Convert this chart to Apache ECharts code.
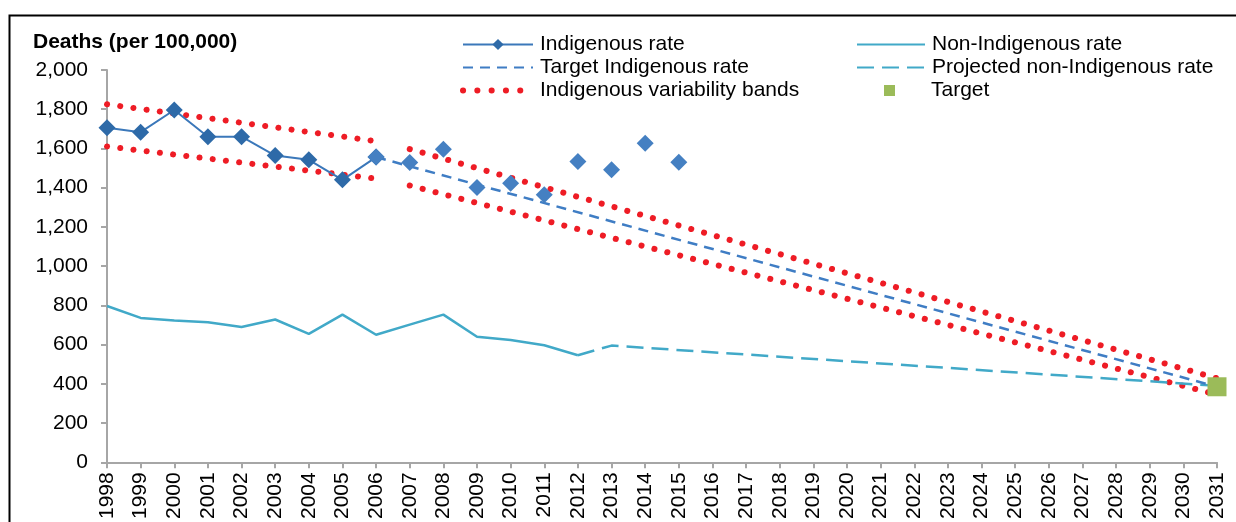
<!DOCTYPE html>
<html>
<head>
<meta charset="utf-8">
<script src="https://cdn.jsdelivr.net/npm/echarts@6/dist/echarts.min.js"></script>
<style>
html,body{margin:0;padding:0;background:#fff;}
#chart{width:1236px;height:522px;}
</style>
</head>
<body>
<div id="chart"></div>
<script>
// ---- data ----
var years = ['1998','1999','2000','2001','2002','2003','2004','2005','2006','2007','2008','2009','2010','2011','2012','2013','2014','2015','2016','2017','2018','2019','2020','2021','2022','2023','2024','2025','2026','2027','2028','2029','2030','2031'];
var yTicks = [0,200,400,600,800,1000,1200,1400,1600,1800,2000];

var indigenousYears = ['1998','1999','2000','2001','2002','2003','2004','2005','2006'];
var indigenousRate = [1706,1683,1796,1660,1660,1564,1542,1440,1556];

var indigenousLaterYears = ['2006','2007','2008','2009','2010','2011','2012','2013','2014','2015'];
var indigenousLaterRate = [1556,1528,1596,1401,1423,1364,1533,1491,1627,1530];

var nonIndigenousYears = ['1998','1999','2000','2001','2002','2003','2004','2005','2006','2007','2008','2009','2010','2011','2012'];
var nonIndigenousRate = [797,736,723,714,690,728,655,753,650,702,753,640,623,597,546];

var projectedNonIndigenousYears = ['2012','2013','2031'];
var projectedNonIndigenousRate = [546,595,390];

var targetIndigenousYears = ['2006','2031'];
var targetIndigenousRate = [1556,385];

var bandUpperEarlyYears = ['1998','2006'];
var bandUpperEarly = [1825,1637];
var bandLowerEarlyYears = ['1998','2006'];
var bandLowerEarly = [1610,1446];
var bandUpperLateYears = ['2007','2031'];
var bandUpperLate = [1597,428];
var bandLowerLateYears = ['2007','2031'];
var bandLowerLate = [1411,345];

var targetYears = ['2031'];
var targetValue = [385];

// ---- helpers ----
function pairs(xs, vs){ return xs.map(function(x,i){ return [x, vs[i]]; }); }

var FONT = 'Liberation Sans, Arial, sans-serif';
var RED = '#EE1C25';
var BLUE_LINE = '#3B78BA';
var AQUA = '#41A9C8';
var TARGET_BLUE = '#3F7DC4';
var GREEN = '#9BBB59';
var bandName = 'Indigenous variability bands';
var dotStyle = {color: RED, width: 6, type: [0.1, 13.2], cap: 'round'};
function band(xs, vs){
  return {
    name: bandName, type: 'line', data: pairs(xs, vs), symbol: 'none', z: 2,
    lineStyle: dotStyle, itemStyle: {color: RED}
  };
}
var hiddenSymbol = {opacity: 0};
var legendText = {fontSize: 21, lineHeight: 21, color: '#000', fontFamily: FONT, padding: [0,0,0,2]};

var chart = echarts.init(document.getElementById('chart'), null, {renderer: 'canvas'});
var option = {
  animation: false,
  backgroundColor: '#ffffff',
  textStyle: {fontFamily: FONT},
  graphic: [
    {type: 'rect', left: 7, top: 13, shape: {x: 0, y: 0, width: 1300, height: 600},
     style: {fill: 'none', stroke: '#000', lineWidth: 2}, z: -1, silent: true},
    {type: 'text', left: 33, top: 32, style: {text: 'Deaths (per 100,000)', font: 'bold 21px ' + FONT, fill: '#000'}}
  ],
  legend: [
    {
      orient: 'vertical', left: 460, top: 34, itemWidth: 70, itemHeight: 14, itemGap: 2, padding: 0,
      textStyle: legendText,
      data: [
        {name: 'Indigenous rate'},
        {name: 'Target Indigenous rate', itemStyle: hiddenSymbol},
        {name: bandName, itemStyle: hiddenSymbol, lineStyle: {color: RED, width: 6, type: [0.1, 14.2], cap: 'round'}}
      ]
    },
    {
      orient: 'vertical', left: 856, top: 34, itemWidth: 68, itemHeight: 14, itemGap: 2, padding: 0,
      textStyle: legendText,
      data: [
        {name: 'Non-Indigenous rate', itemStyle: hiddenSymbol},
        {name: 'Projected non-Indigenous rate', itemStyle: hiddenSymbol}
      ]
    },
    {
      orient: 'vertical', left: 884, top: 80, itemWidth: 11, itemHeight: 11, itemGap: 2, padding: 0,
      textStyle: {fontSize: 21, lineHeight: 21, color: '#000', fontFamily: FONT, padding: [0,0,0,31]},
      data: [{name: 'Target', icon: 'rect', itemStyle: {color: GREEN}}]
    }
  ],
  grid: {left: 107, right: 19, top: 70, bottom: 59, containLabel: false},
  xAxis: {
    type: 'category', data: years, boundaryGap: false,
    axisLine: {lineStyle: {color: '#A6A6A6', width: 2}},
    axisTick: {show: true, interval: 0, length: 6, lineStyle: {color: '#A6A6A6', width: 2}},
    axisLabel: {interval: 0, rotate: 90, fontSize: 21, color: '#000', margin: 10, fontFamily: FONT},
    splitLine: {show: false}
  },
  yAxis: {
    type: 'value', min: yTicks[0], max: yTicks[yTicks.length-1], interval: yTicks[1]-yTicks[0],
    axisLine: {show: true, lineStyle: {color: '#A6A6A6', width: 2}},
    axisTick: {show: true, length: 6, lineStyle: {color: '#A6A6A6', width: 2}},
    axisLabel: {fontSize: 21, color: '#000', margin: 19, fontFamily: FONT,
      formatter: function(v){ return v.toLocaleString('en-US'); }},
    splitLine: {show: false}
  },
  series: [
    band(bandUpperEarlyYears, bandUpperEarly),
    band(bandLowerEarlyYears, bandLowerEarly),
    band(bandUpperLateYears, bandUpperLate),
    band(bandLowerLateYears, bandLowerLate),
    {
      name: 'Non-Indigenous rate', type: 'line', data: pairs(nonIndigenousYears, nonIndigenousRate),
      symbol: 'none', z: 3,
      lineStyle: {color: AQUA, width: 2.5}, itemStyle: {color: AQUA}
    },
    {
      name: 'Projected non-Indigenous rate', type: 'line', data: pairs(projectedNonIndigenousYears, projectedNonIndigenousRate),
      symbol: 'none', z: 3,
      lineStyle: {color: AQUA, width: 2.5, type: [17, 8]}, itemStyle: {color: AQUA}
    },
    {
      name: 'Target Indigenous rate', type: 'line', data: pairs(targetIndigenousYears, targetIndigenousRate),
      symbol: 'none', z: 4,
      lineStyle: {color: TARGET_BLUE, width: 2.5, type: [10, 7]}, itemStyle: {color: TARGET_BLUE}
    },
    {
      name: 'Indigenous rate', type: 'line', data: pairs(indigenousYears, indigenousRate),
      symbol: 'diamond', symbolSize: 17, z: 5,
      lineStyle: {color: BLUE_LINE, width: 2}, itemStyle: {color: '#2E6AA8'}
    },
    {
      name: 'Indigenous rate (later)', type: 'scatter', data: pairs(indigenousLaterYears, indigenousLaterRate),
      symbol: 'diamond', symbolSize: 17, z: 6,
      itemStyle: {color: '#4580C2', opacity: 1}
    },
    {
      name: 'Target', type: 'scatter', data: pairs(targetYears, targetValue),
      symbol: 'rect', symbolSize: 19, z: 7,
      itemStyle: {color: GREEN, opacity: 1}
    }
  ]
};
chart.setOption(option);
</script>
</body>
</html>
